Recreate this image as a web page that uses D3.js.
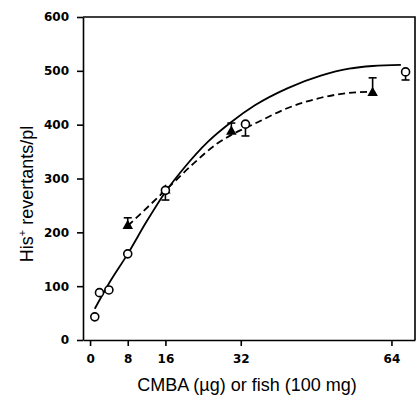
<!DOCTYPE html>
<html>
<head>
<meta charset="utf-8">
<script src="https://cdn.jsdelivr.net/npm/d3@7"></script>
<style>
  body { margin: 0; background: #fff; }
  .axis path, .axis line { stroke: #000; stroke-width: 1.6px; }
  .axis text { font-family: "DejaVu Sans", sans-serif; font-weight: bold; font-size: 12px; fill: #000; }
  .title { font-family: "Liberation Sans", Arial, sans-serif; font-size: 18px; fill: #000; }
</style>
</head>
<body>
<div id="chart"></div>
<script>
// measured points, open circles (solid fit)
const circleX = [1, 2, 4, 8, 16, 33, 67];
const circleY = [43, 88, 93, 160, 278, 401, 498];
const circleErr = [0, 0, 0, 0, 18, 22, 15];

// filled triangles (dashed fit)
const triX = [8, 16, 30, 60];
const triY = [212, 278, 387, 459];
const triErr = [15, 0, 16, 28];

// fitted curves
const solidX = [1, 4, 8, 12, 16, 20, 25, 30, 35, 42, 49, 55, 60, 66];
const solidY = [58, 105, 160, 220, 275, 320, 368, 405, 436, 468, 491, 504, 509, 511];
const dashX = [8, 16, 22, 27, 30, 35, 42, 49, 55, 59];
const dashY = [212, 278, 328, 365, 381, 402, 431, 450, 459, 461];

const xTicks = [0, 8, 16, 32, 64];
const yTicks = [0, 100, 200, 300, 400, 500, 600];

const margin = { top: 17, right: 1, bottom: 57, left: 83 },
  width = 416 - margin.left - margin.right,
  height = 397 - margin.top - margin.bottom;

const x = d3.scaleLinear().domain([-1.5, 69]).range([0, width]);
const y = d3.scaleLinear().domain([0, 600]).range([height, 0]);

const svg = d3.select("#chart").append("svg")
  .attr("width", 416)
  .attr("height", 397)
  .append("g")
  .attr("transform", `translate(${margin.left},${margin.top})`);

// frame on top and right
svg.append("path")
  .attr("d", `M0,0H${width}V${height}`)
  .attr("fill", "none")
  .attr("stroke", "#000")
  .attr("stroke-width", 1.6);

svg.append("g")
  .attr("class", "x axis")
  .attr("transform", `translate(0,${height})`)
  .call(d3.axisBottom(x).tickValues(xTicks).tickSize(6).tickPadding(8).tickSizeOuter(0));

svg.append("g")
  .attr("class", "y axis")
  .call(d3.axisLeft(y).tickValues(yTicks).tickSize(6).tickPadding(8).tickSizeOuter(0));

const line = d3.line()
  .x(d => x(d[0]))
  .y(d => y(d[1]))
  .curve(d3.curveMonotoneX);

svg.append("path")
  .datum(d3.zip(solidX, solidY))
  .attr("d", line)
  .attr("fill", "none")
  .attr("stroke", "#000")
  .attr("stroke-width", 1.8);

svg.append("path")
  .datum(d3.zip(dashX, dashY))
  .attr("d", line)
  .attr("fill", "none")
  .attr("stroke", "#000")
  .attr("stroke-width", 1.8)
  .attr("stroke-dasharray", "7,4");

// error bars: circles hang below, triangles stand above
function errorBars(xs, ys, errs, dir) {
  const d = d3.zip(xs, ys, errs).filter(e => e[2] > 0);
  const g = svg.append("g").attr("stroke", "#000").attr("stroke-width", 1.6);
  g.selectAll(".eb")
    .data(d)
    .enter().append("line")
    .attr("x1", e => x(e[0])).attr("x2", e => x(e[0]))
    .attr("y1", e => y(e[1])).attr("y2", e => y(e[1] + dir * e[2]));
  g.selectAll(".cap")
    .data(d)
    .enter().append("line")
    .attr("x1", e => x(e[0]) - 4).attr("x2", e => x(e[0]) + 4)
    .attr("y1", e => y(e[1] + dir * e[2])).attr("y2", e => y(e[1] + dir * e[2]));
}
errorBars(circleX, circleY, circleErr, -1);
errorBars(triX, triY, triErr, 1);

svg.selectAll(".tri")
  .data(d3.zip(triX, triY))
  .enter().append("path")
  .attr("d", d3.symbol().type(d3.symbolTriangle).size(48))
  .attr("transform", d => `translate(${x(d[0])},${y(d[1])})`)
  .attr("fill", "#000");

svg.selectAll(".pt")
  .data(d3.zip(circleX, circleY))
  .enter().append("circle")
  .attr("cx", d => x(d[0]))
  .attr("cy", d => y(d[1]))
  .attr("r", 4)
  .attr("fill", "#fff")
  .attr("stroke", "#000")
  .attr("stroke-width", 1.6);

// axis titles
d3.select("svg").append("text")
  .attr("class", "title")
  .attr("x", 247)
  .attr("y", 391)
  .attr("text-anchor", "middle")
  .text("CMBA (\u00b5g) or fish (100 mg)");

const yt = d3.select("svg").append("text")
  .attr("class", "title")
  .attr("transform", "translate(33,194) rotate(-90)")
  .attr("text-anchor", "middle");
yt.append("tspan").text("His");
yt.append("tspan").attr("dy", -7).attr("font-size", 11).text("+");
yt.append("tspan").attr("dy", 7).text(" revertants/pl");
</script>
</body>
</html>
